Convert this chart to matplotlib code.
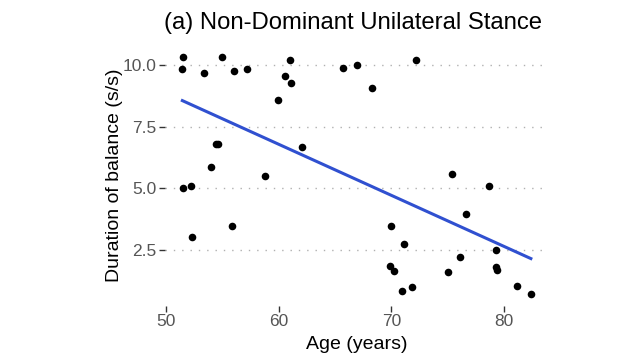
import matplotlib
matplotlib.use("Agg")
import matplotlib.pyplot as plt
import numpy as np

plt.rcParams['font.family'] = ['Liberation Sans', 'DejaVu Sans']

age = [51.56, 51.47, 53.39, 55.01, 56.02, 57.23, 59.95, 60.59, 61.04, 61.12,
       65.68, 66.97, 68.30, 72.17, 54.46, 54.63, 62.07, 54.05, 58.80, 51.56,
       52.21, 55.87, 52.30, 75.36, 78.66, 76.57, 69.98, 71.13, 79.23, 76.09,
       69.87, 70.25, 79.28, 79.32, 75.00, 70.93, 71.79, 81.09, 82.36]
duration = [10.31, 9.85, 9.66, 10.30, 9.77, 9.85, 8.58, 9.53, 10.19, 9.28,
            9.89, 10.01, 9.06, 10.19, 6.80, 6.80, 6.68, 5.86, 5.51, 5.03,
            5.11, 3.49, 3.04, 5.59, 5.09, 3.98, 3.49, 2.77, 2.50, 2.21,
            1.87, 1.66, 1.83, 1.69, 1.62, 0.85, 1.01, 1.05, 0.74]

x_ticks = [50, 60, 70, 80]
y_ticks = [2.5, 5.0, 7.5, 10.0]

fig = plt.figure(figsize=(6.4, 3.6), dpi=100)
ax = fig.add_axes([0.2577, 0.151, 0.599, 0.723])

for yv in y_ticks:
    ax.axhline(yv, color='#b0b0b0', lw=1.0, ls=(0, (1, 5)), zorder=1)

ax.scatter(age, duration, s=30, color='black', zorder=3, linewidths=0)

a = np.array(age); d = np.array(duration)
slope, intercept = np.polyfit(a, d, 1)
xs = np.array([a.min(), a.max()])
ax.plot(xs, slope * xs + intercept, color='#3050D0', lw=2.2, zorder=2)

xr = a.max() - a.min(); yr = d.max() - d.min()
ax.set_xlim(a.min() - 0.05 * xr, a.max() + 0.05 * xr)
ax.set_ylim(d.min() - 0.05 * yr, d.max() + 0.05 * yr)

ax.set_xticks(x_ticks)
ax.set_xticklabels([str(v) for v in x_ticks])
ax.set_yticks(y_ticks)
ax.set_yticklabels([f"{v:.1f}" for v in y_ticks])
for s in ax.spines.values():
    s.set_visible(False)
ax.tick_params(axis='both', length=4, width=1.0, color='#333333',
               labelsize=12.5, labelcolor='#555555', pad=2)

ax.set_xlabel("Age (years)", fontsize=14, color='black', labelpad=5)
ax.set_ylabel("Duration of balance (s/s)", fontsize=14, color='black', labelpad=0)
fig.text(0.552, 0.936, "(a) Non-Dominant Unilateral Stance", fontsize=17.2,
         ha='center', va='center', color='black')

fig.savefig("out.png", dpi=100, facecolor='white')
